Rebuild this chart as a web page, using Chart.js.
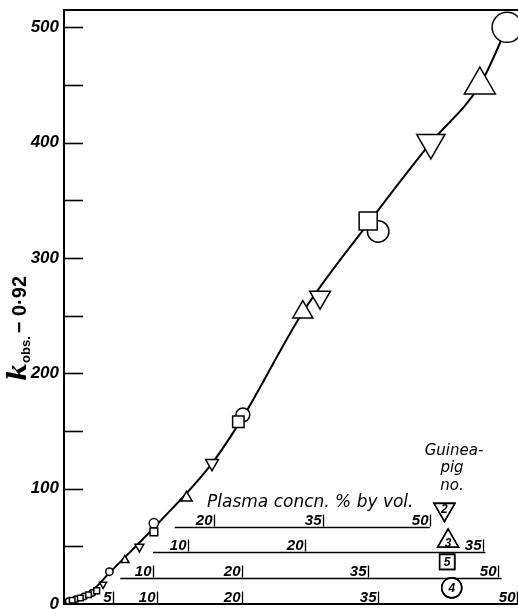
<!DOCTYPE html>
<html>
<head>
<meta charset="utf-8">
<script src="https://cdn.jsdelivr.net/npm/chart.js@4.4.1/dist/chart.umd.min.js"></script>
<style>
  html, body { margin: 0; padding: 0; background: #fff; }
  #grafica { display: block; }
</style>
</head>
<body>
<canvas id="grafica" width="518" height="609"></canvas>
<script>
// Datos (eje x: posición común, igual a la concn. del cobayo 4)
const yMarcas = [0, 100, 200, 300, 400, 500];
const yMenores = [50, 150, 250, 350, 450];

// cobayo 2 - triángulo invertido
const cob2X = [4.3, 8.3, 16.3, 28.2, 40.4];
const cob2Y = [17, 49.5, 122, 266, 400];

// cobayo 3 - triángulo
const cob3X = [6.7, 13.5, 26.3, 45.8];
const cob3Y = [38, 92, 253, 450];

// cobayo 5 - cuadrado
const cob5X = [0.9, 1.8, 2.7, 3.6, 9.9, 19.2, 33.5];
const cob5Y = [3.2, 5.2, 8, 11.5, 62.5, 158, 332];

// cobayo 4 - círculo
const cob4X = [0.5, 1.3, 2.2, 3.1, 5.0, 9.9, 19.7, 34.6, 48.8];
const cob4Y = [2.5, 4.2, 6.5, 9.5, 28, 70, 164, 323, 500];

// curva ajustada
const curvaX = [0, 3, 5, 10, 16.3, 19.7, 26.3, 33.5, 40.4, 45.8, 48.8];
const curvaY = [0, 11, 27, 67, 122, 162, 253, 330, 400, 450, 500];

// escalas de concentración de plasma (% por vol.)
const esc2Etiquetas = ["20", "35", "50"];
const esc2Pos = [16.5, 28.5, 40.3];
const esc3Etiquetas = ["10", "20", "35"];
const esc3Pos = [13.7, 26.5, 46.1];
const esc5Etiquetas = ["10", "20", "35", "50"];
const esc5Pos = [9.8, 19.6, 33.5, 47.8];
const esc4Etiquetas = ["5", "10", "20", "35", "50"];
const esc4Pos = [5.4, 10.2, 19.6, 34.6, 49.9];

function puntos(xs, ys) {
  return xs.map((x, i) => ({ x: x, y: ys[i] }));
}

const escalas = [
  { num: "2", estilo: "triangle", rot: 180, nivel: 67, desde: 12.2, hasta: 40.3, etiquetas: esc2Etiquetas, pos: esc2Pos, mx: 41.9, my: 82, r: 12 },
  { num: "3", estilo: "triangle", rot: 0, nivel: 45, desde: 9.8, hasta: 46.4, etiquetas: esc3Etiquetas, pos: esc3Pos, mx: 42.3, my: 54.5, r: 12 },
  { num: "5", estilo: "rect", rot: 0, nivel: 22.6, desde: 6.2, hasta: 48.2, etiquetas: esc5Etiquetas, pos: esc5Pos, mx: 42.2, my: 36.5, r: 10.6 },
  { num: "4", estilo: "circle", rot: 0, nivel: 0, desde: 0, hasta: 0, etiquetas: esc4Etiquetas, pos: esc4Pos, mx: 42.7, my: 14, r: 10 }
];

/* PLUGIN: marcas interiores, título del eje y, escalas */
const dibujoExtra = {
  id: "dibujoExtra",
  beforeDatasetsDraw(chart) {
    const c = chart.ctx;
    const area = chart.chartArea;
    const sx = chart.scales.x;
    const sy = chart.scales.y;

    c.save();
    c.strokeStyle = "#000";
    c.lineWidth = 2;
    // borde superior
    c.beginPath();
    c.moveTo(area.left - 1, area.top);
    c.lineTo(area.right, area.top);
    c.stroke();
    // marcas interiores
    c.lineWidth = 1.6;
    sy.ticks.forEach(t => {
      if (t.value === 0) return;
      const py = Math.round(sy.getPixelForValue(t.value)) + 0.5;
      c.beginPath();
      c.moveTo(area.left, py);
      c.lineTo(area.left + 19, py);
      c.stroke();
    });

    // escalas de plasma
    c.fillStyle = "#000";
    c.textAlign = "right";
    c.textBaseline = "alphabetic";
    c.font = "italic bold 15px 'Liberation Sans'";
    escalas.forEach(e => {
      const py = Math.round(sy.getPixelForValue(e.nivel)) + 0.5;
      c.lineWidth = 1.6;
      if (e.hasta > e.desde) {
        c.beginPath();
        c.moveTo(sx.getPixelForValue(e.desde), py);
        c.lineTo(sx.getPixelForValue(e.hasta), py);
        c.stroke();
      }
      e.pos.forEach((p, i) => {
        const px = Math.round(sx.getPixelForValue(p)) + 0.5;
        c.lineWidth = 1.3;
        c.beginPath();
        c.moveTo(px, py - 1);
        c.lineTo(px, py - 13);
        c.stroke();
        c.fillText(e.etiquetas[i], px - 2, py - 3);
      });
    });
    c.restore();
  },
  afterDatasetsDraw(chart) {
    const c = chart.ctx;
    const sx = chart.scales.x;
    const sy = chart.scales.y;
    c.save();
    // marcadores de la leyenda
    escalas.forEach(e => {
      const px = sx.getPixelForValue(e.mx);
      const py = sy.getPixelForValue(e.my);
      c.fillStyle = "#fff";
      c.strokeStyle = "#000";
      c.lineWidth = 1.6;
      Chart.helpers.drawPoint(c, { pointStyle: e.estilo, radius: e.r, rotation: e.rot, borderWidth: 1.6 }, px, py);
      c.fill();
      c.stroke();
      c.fillStyle = "#000";
      c.textAlign = "center";
      c.textBaseline = "middle";
      c.font = "italic bold 12px 'Liberation Sans'";
      const dy = e.estilo === "triangle" ? (e.rot ? -1 : 2) : 0;
      c.fillText(e.num, px, py + dy + 1);
    });

    // textos
    c.fillStyle = "#000";
    c.textBaseline = "alphabetic";
    c.textAlign = "left";
    c.font = "oblique 17px 'DejaVu Sans'";
    c.fillText("Plasma concn. % by vol.", 207, 507);
    c.textAlign = "center";
    c.font = "oblique 15px 'DejaVu Sans'";
    c.fillText("Guinea-", 454, 455);
    c.fillText("pig", 452, 472);
    c.fillText("no.", 452, 490);

    // título eje y
    c.translate(26, 324);
    c.rotate(-Math.PI / 2);
    c.textAlign = "left";
    let x = -57;
    c.font = "italic bold 26px 'DejaVu Serif'";
    c.fillText("k", x, 0);
    x += c.measureText("k").width;
    c.font = "bold 13px 'Liberation Sans'";
    c.fillText("obs.", x, 4);
    x += c.measureText("obs.").width + 3;
    c.font = "bold 20px 'Liberation Sans'";
    c.fillText("\u2212 0\u00b792", x, 0);
    c.restore();
  }
};

const ctx = document.getElementById("grafica");

const marca = (estilo, rot, base, k) => ({
  pointStyle: estilo,
  rotation: rot,
  pointRadius: c => (c.raw ? base + c.raw.y * k : base),
  pointBackgroundColor: "#fff",
  pointBorderColor: "#000",
  pointBorderWidth: 1.5,
  showLine: false,
  clip: false
});

// quita el relleno automático de las escalas
const sinRelleno = s => {
  s.paddingTop = 0;
  s.paddingBottom = 0;
  s.paddingLeft = 0;
  s.paddingRight = 0;
};

new Chart(ctx, {
  type: "scatter",
  data: {
    datasets: [
      Object.assign({ label: "2", data: puntos(cob2X, cob2Y) }, marca("triangle", 180, 3.5, 0.032)),
      Object.assign({ label: "3", data: puntos(cob3X, cob3Y) }, marca("triangle", 0, 3.5, 0.032)),
      Object.assign({ label: "5", data: puntos(cob5X, cob5Y) }, marca("rect", 0, 3.8, 0.027)),
      Object.assign({ label: "4", data: puntos(cob4X, cob4Y) }, marca("circle", 0, 3, 0.024)),
      {
        label: "curva",
        data: puntos(curvaX, curvaY),
        showLine: true,
        borderColor: "#000",
        borderWidth: 2,
        pointRadius: 0,
        tension: 0.35,
        cubicInterpolationMode: "monotone",
        clip: false
      }
    ]
  },
  options: {
    responsive: false,
    animation: false,
    layout: { autoPadding: false, padding: { top: 10, right: 0, left: 0, bottom: 0 } },
    plugins: {
      legend: { display: false },
      tooltip: { enabled: false }
    },
    scales: {
      x: {
        type: "linear",
        min: 0,
        max: 50,
        ticks: { display: false },
        grid: { display: false, drawTicks: false },
        border: { display: true, width: 2, color: "#000" },
        afterFit: s => { s.height = 5; sinRelleno(s); }
      },
      y: {
        type: "linear",
        min: 0,
        max: 515,
        afterBuildTicks: s => {
          s.ticks = yMarcas.concat(yMenores).sort((a, b) => a - b).map(v => ({ value: v }));
        },
        ticks: {
          autoSkip: false,
          color: "#000",
          padding: 5,
          font: { family: "Liberation Sans", size: 17, weight: "bold", style: "italic" },
          callback: v => (yMarcas.includes(v) ? v : "")
        },
        grid: { display: false, drawTicks: false },
        border: { display: true, width: 2, color: "#000" },
        afterFit: s => { s.width = 64; sinRelleno(s); }
      }
    }
  },
  plugins: [dibujoExtra]
});
</script>
</body>
</html>
